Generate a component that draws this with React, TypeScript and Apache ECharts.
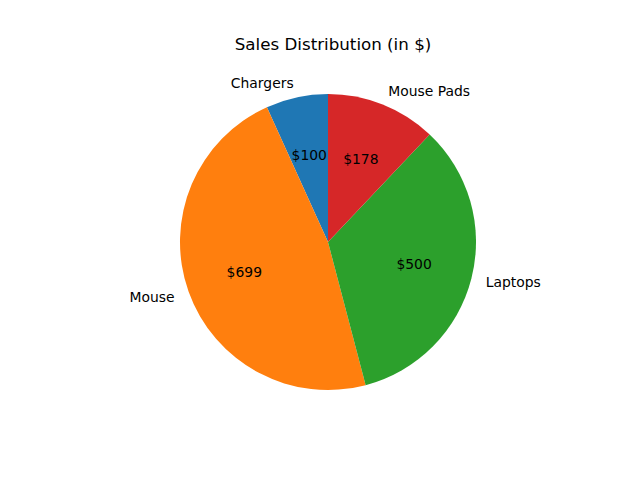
import React, { useEffect, useRef } from "react";
import * as echarts from "echarts";

const categories = ["Chargers", "Mouse", "Laptops", "Mouse Pads"];
const values = [100, 699, 500, 178];
const colors = ["#1f77b4", "#ff7f0e", "#2ca02c", "#d62728"];

export default function App() {
  const ref = useRef<HTMLDivElement>(null);
  useEffect(() => {
    document.body.style.margin = "0";
    const chart = echarts.init(ref.current!, null, { renderer: "svg" });
    const R = 148;
    const center = [328, 242];
    const font = "DejaVu Sans";
    chart.setOption({
      animation: false,
      backgroundColor: "#ffffff",
      title: {
        text: "Sales Distribution (in $)",
        left: 328,
        top: 30,
        textAlign: "center",
        textStyle: { fontFamily: font, fontSize: 16.7, fontWeight: "normal", color: "#000" },
      },
      series: [
        {
          type: "pie",
          center,
          radius: [0, R],
          startAngle: 90,
          clockwise: false,
          silent: true,
          avoidLabelOverlap: false,
          label: {
            show: true,
            position: "outside",
            formatter: "{b}",
            color: "#000",
            fontFamily: font,
            fontSize: 13.9,
            distanceToLabelLine: 0,
          },
          labelLine: { show: false, length: R * 0.1, length2: 0 },
          data: categories.map((c, i) => ({ name: c, value: values[i], itemStyle: { color: colors[i] } })),
        },
        {
          type: "pie",
          center,
          radius: [0, R * 1.16],
          startAngle: 90,
          clockwise: false,
          silent: true,
          itemStyle: { color: "rgba(0,0,0,0)" },
          label: {
            show: true,
            position: "inside",
            formatter: (p: any) => "$" + p.value,
            color: "#000",
            fontFamily: font,
            fontSize: 13.9,
          },
          labelLine: { show: false },
          data: categories.map((c, i) => ({ name: c, value: values[i] })),
        },
      ],
    });
    return () => chart.dispose();
  }, []);
  return <div ref={ref} style={{ width: 640, height: 480 }} />;
}
